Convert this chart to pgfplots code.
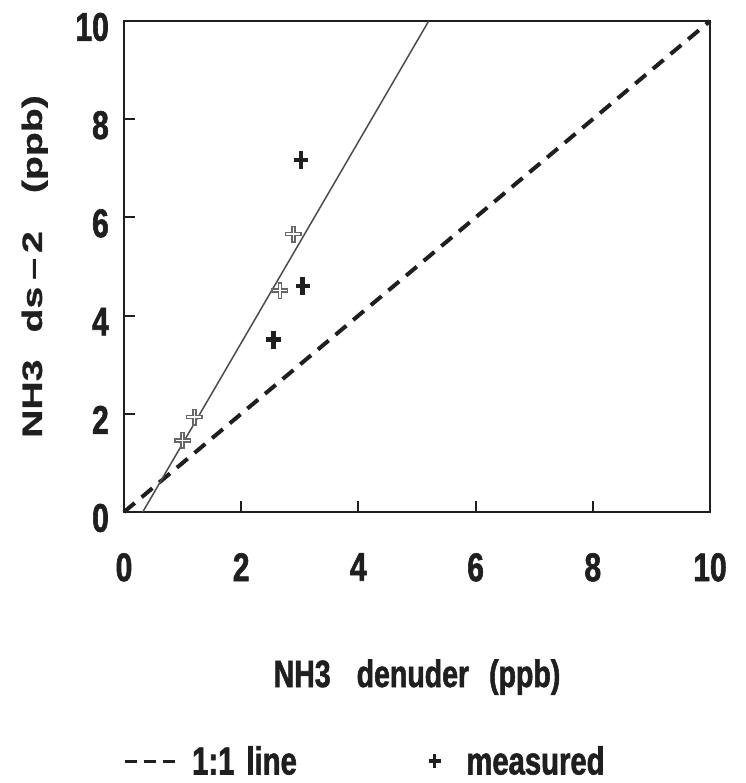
\documentclass[border=0pt]{standalone}
\usepackage{fontspec}
\usepackage{pgfplots}
\pgfplotsset{compat=1.18}
\setmainfont{Liberation Sans}
\newfontfamily\condsans{Liberation Sans Bold}[FakeStretch=0.75, FakeBold=1.5]
\newfontfamily\widesans{Liberation Sans Bold}[FakeStretch=1.4, FakeBold=0.8]

\definecolor{ink}{gray}{0.12}
\definecolor{hollow}{gray}{0.40}

% measured NH3: denuder (x) vs ds-2 (y), ppb
\pgfplotstableread{
x    y
3.02 7.17
3.05 4.60
2.55 3.51
}\solidpts
\pgfplotstableread{
x    y
2.89 5.66
2.66 4.51
1.20 1.93
1.00 1.46
}\outlinepts

\begin{document}
\begin{tikzpicture}
\useasboundingbox (-124pt,-271pt) rectangle (621pt,512pt);
\begin{axis}[
  scale only axis,
  width=586pt, height=491pt,
  xmin=0, xmax=10, ymin=0, ymax=10,
  xtick={0,2,4,6,8,10}, ytick={0,2,4,6,8,10},
  xtick pos=left, ytick pos=left,
  tick align=inside,
  major tick length=11pt,
  axis line style={line width=2.8pt, ink},
  every tick/.style={line width=2pt, ink},
  /pgf/number format/assume math mode=true,
  xticklabel style={font=\condsans\fontsize{40}{44}\selectfont,
    anchor=north, inner sep=0pt, yshift=-41pt, text=ink},
  yticklabel style={font=\condsans\fontsize{40}{44}\selectfont,
    anchor=east, inner sep=0pt, xshift=-15pt, yshift=-6pt, text=ink},
  xlabel={NH3\hspace{26pt}denuder\hspace{20pt}(ppb)},
  xlabel style={font=\condsans\fontsize{38}{42}\selectfont,
    at={(axis description cs:0.5,0)}, anchor=base, yshift=-175pt, inner sep=0pt, text=ink},
  ylabel={NH3\hspace{27pt}ds\hspace{7pt}–\hspace{5pt}2\hspace{38pt}(ppb)},
  ylabel style={font=\widesans\fontsize{28}{32}\selectfont,
    at={(axis description cs:-0.140,0.5)}, anchor=base, inner sep=0pt, text=ink},
  legend columns=2,
  legend style={
    at={(axis description cs:0,0)}, anchor=north west,
    xshift=-1pt, yshift=-232pt,
    draw=none, fill=none, inner sep=0pt,
    font=\condsans\fontsize{39}{42}\selectfont,
    text=ink,
    /tikz/every even column/.append style={column sep=128pt},
  },
  clip=false,
]
% 1:1 line
\addplot[line width=4pt, ink, dash pattern=on 14pt off 9pt,
  legend image code/.code={%
    \draw[line width=3pt, ink, dash pattern=on 12pt off 7pt] (0pt,0pt) -- (50pt,0pt);}]
  coordinates {(0,0) (10,10)};
\addlegendentry{\hspace{14pt}1:1\hspace{12pt}line}

% fitted regression
\addplot[line width=1.5pt, black!70, forget plot]
  coordinates {(0.32,0) (5.20,10)};

% measured points
\addplot[only marks, mark=+, mark size=9pt,
  mark options={line width=4.5pt, ink, xscale=0.8},
  legend image code/.code={%
    \draw[line width=3.5pt, ink] (0pt,-7pt) -- (0pt,7pt) (-6pt,0pt) -- (6pt,0pt);}]
  table[x=x, y=y] {\solidpts};
\addlegendentry{\hspace{22pt}measured}

\addplot[only marks, mark=+, mark size=8.5pt,
  mark options={line width=4.5pt, hollow}, forget plot]
  table[x=x, y=y] {\outlinepts};
\addplot[only marks, mark=+, mark size=7pt,
  mark options={line width=1.5pt, white}, forget plot]
  table[x=x, y=y] {\outlinepts};
\end{axis}
\end{tikzpicture}
\end{document}
